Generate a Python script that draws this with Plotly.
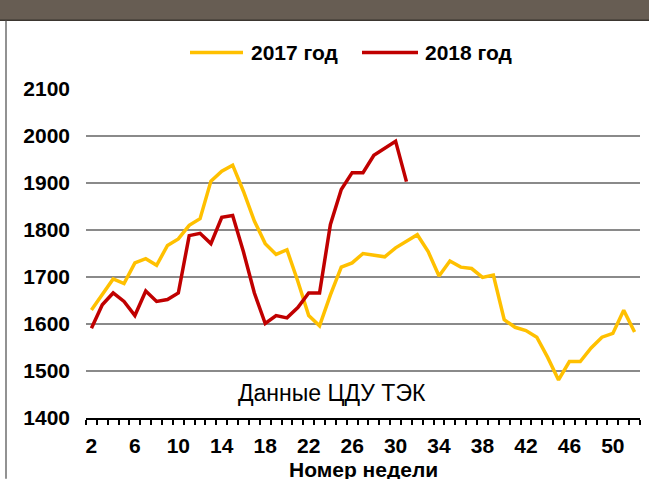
import plotly.graph_objects as go

weeks = list(range(2, 53))
series_2017 = [1630, 1662, 1696, 1686, 1730, 1739, 1725, 1767, 1781, 1810,
               1824, 1904, 1925, 1938, 1882, 1819, 1771, 1748, 1758, 1691,
               1618, 1596, 1662, 1721, 1730, 1750, 1746, 1743, 1762, 1777,
               1790, 1754, 1702, 1734, 1721, 1718, 1699, 1704, 1609, 1593,
               1586, 1572, 1529, 1481, 1520, 1520, 1549, 1572, 1580, 1629,
               1583]
weeks_2018 = list(range(2, 32))
series_2018 = [1591, 1641, 1666, 1648, 1618, 1670, 1648, 1652, 1666, 1788,
               1793, 1771, 1827, 1831, 1753, 1666, 1601, 1618, 1613, 1635,
               1666, 1666, 1812, 1886, 1922, 1922, 1959, 1973, 1989, 1903]
x_tick_vals = list(range(2, 51, 4))
x_tick_text = [str(v) for v in x_tick_vals]
y_tick_vals = [1400, 1500, 1600, 1700, 1800, 1900, 2000, 2100]
names = ["2017 год", "2018 год"]
colors = ["#FFC000", "#C00000"]
source_note = "Данные ЦДУ ТЭК"
x_title = "Номер недели"

W, H = 649, 479
L, R, T, B = 86, 9, 89.3, 60.7
pw, ph = W - L - R, H - T - B

def px_x(x):
    return (x - L) / pw

def px_y(y):
    return (H - B - y) / ph

FONT = "Liberation Sans, Arial, sans-serif"

fig = go.Figure()
fig.add_trace(go.Scatter(x=weeks, y=series_2017, mode="lines", name=names[0],
                         line=dict(color=colors[0], width=3.5), showlegend=False))
fig.add_trace(go.Scatter(x=weeks_2018, y=series_2018, mode="lines", name=names[1],
                         line=dict(color=colors[1], width=3.5), showlegend=False))

# custom legend (line samples + labels)
legend_items = [(190, 243, 249), (362, 418, 423)]
shapes = [
    dict(type="rect", xref="paper", yref="paper",
         x0=px_x(0), x1=px_x(W), y0=px_y(20.5), y1=px_y(0),
         fillcolor="#675d53", line=dict(width=0), layer="above"),
    dict(type="line", xref="paper", yref="paper",
         x0=px_x(0), x1=px_x(W), y0=px_y(20.5), y1=px_y(20.5),
         line=dict(color="#3b3630", width=1.5), layer="above"),
    dict(type="line", xref="paper", yref="paper",
         x0=px_x(6), x1=px_x(6), y0=px_y(21), y1=px_y(H),
         line=dict(color="#6e6e6e", width=1.5), layer="above"),
]
annotations = [
    dict(text=source_note, xref="paper", yref="paper",
         x=px_x(332), y=px_y(393), xanchor="center", yanchor="middle",
         showarrow=False, font=dict(family=FONT, size=23, color="black")),
    dict(text=x_title, xref="paper", yref="paper",
         x=px_x(363), y=px_y(470), xanchor="center", yanchor="middle",
         showarrow=False,
         font=dict(family=FONT, size=21, color="black", weight="bold")),
]
for (x0, x1, xt), name, col in zip(legend_items, names, colors):
    shapes.append(dict(type="line", xref="paper", yref="paper",
                       x0=px_x(x0), x1=px_x(x1), y0=px_y(52.7), y1=px_y(52.7),
                       line=dict(color=col, width=3.5)))
    annotations.append(dict(text=name, xref="paper", yref="paper",
                            x=px_x(xt), y=px_y(53), xanchor="left", yanchor="middle",
                            showarrow=False,
                            font=dict(family=FONT, size=21, color="black", weight="bold")))

fig.update_layout(
    width=W, height=H,
    margin=dict(l=L, r=R, t=T, b=B),
    paper_bgcolor="white", plot_bgcolor="white",
    font=dict(family=FONT, size=21, color="black"),
    showlegend=False,
    xaxis=dict(range=[1.5, 52.5], tickmode="array", tickvals=x_tick_vals,
               ticktext=x_tick_text, showgrid=False, zeroline=False,
               showline=True, linecolor="black", linewidth=2,
               ticks="outside", ticklen=0, tickcolor="black",
               ticklabelstandoff=8, automargin=False,
               tickfont=dict(family=FONT, size=21, color="black", weight="bold"),
               minor=dict(tick0=1.5, dtick=1, ticks="outside", ticklen=5,
                          tickcolor="black", tickwidth=1.5, showgrid=False)),
    yaxis=dict(range=[1400, 2100], tickmode="array", tickvals=y_tick_vals,
               showgrid=True, gridcolor="#8a8a8a", gridwidth=1.8,
               zeroline=False, showline=False, ticks="",
               ticklabelstandoff=15, automargin=False,
               tickfont=dict(family=FONT, size=21, color="black", weight="bold")),
    annotations=annotations,
    shapes=shapes,
)

fig.write_html("out.html",
               config={"displayModeBar": False},
               post_script="document.body.style.margin='0';"
                           "document.body.style.overflow='hidden';")
